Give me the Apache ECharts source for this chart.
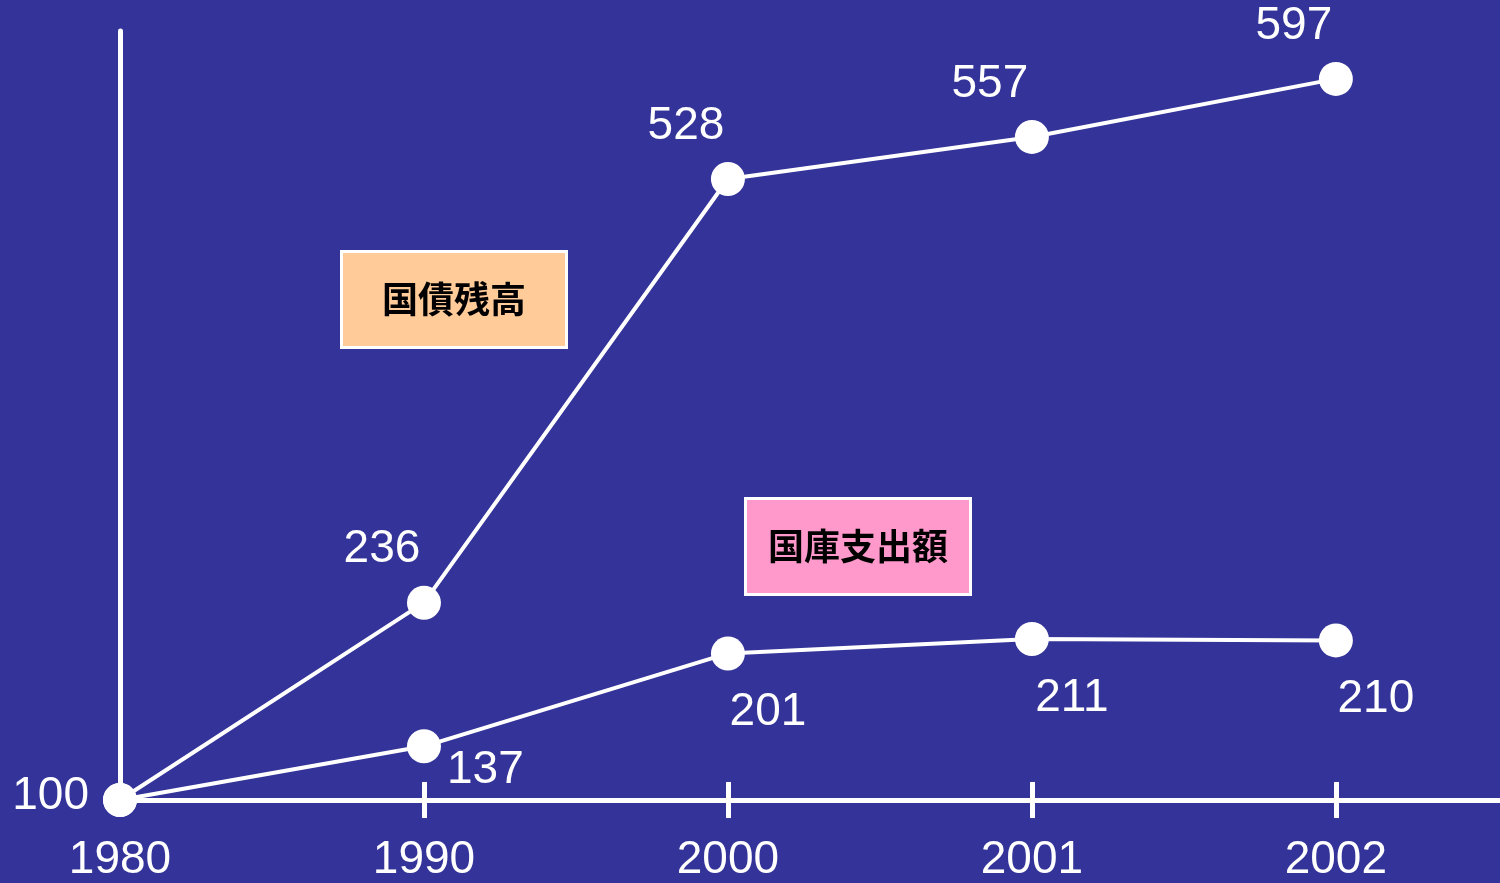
<!DOCTYPE html>
<html>
<head>
<meta charset="utf-8">
<script src="https://cdn.jsdelivr.net/npm/echarts@6/dist/echarts.min.js"></script>
<style>
html,body{margin:0;padding:0;background:#333399;}
#chart{width:1500px;height:883px;}
</style>
</head>
<body>
<div id="chart"></div>
<script>
// ---- data (index, 1980 = 100) ----
const years = ['1980', '1990', '2000', '2001', '2002'];
const debtBalance = [100, 236, 528, 557, 597];      // 国債残高
const treasuryOutlays = [100, 137, 201, 211, 210];  // 国庫支出額
const seriesNames = ['国債残高', '国庫支出額'];

const chart = echarts.init(document.getElementById('chart'), null, {renderer: 'canvas'});

const numFont = {color: '#ffffff', fontSize: 46, fontFamily: '"Liberation Sans", Arial, sans-serif'};
const idx = years.map((_, i) => i);

function build(values, isUpper) {
  return values.map((v, i) => {
    const item = {value: [i, v]};
    if (i === 0) {
      item.label = isUpper ? {show: true, position: 'left', distance: 14, offset: [0, -4]} : {show: false};
    } else if (i === 1 && !isUpper) {
      // keep the label clear of the x axis
      item.label = {show: true, position: 'right', distance: 6, offset: [0, 24]};
    }
    return item;
  });
}

const option = {
  backgroundColor: '#333399',
  animation: false,
  grid: {left: 120, right: 0, top: 31, bottom: 82, containLabel: false},
  xAxis: [{
    type: 'value', min: 0, max: 4.54, interval: 1,
    axisLine: {show: true, lineStyle: {color: '#ffffff', width: 5}},
    axisTick: {show: true, length: 18, lineStyle: {color: '#ffffff', width: 5}, customValues: idx.slice(1)},
    axisLabel: {show: true, customValues: idx, margin: 37, ...numFont,
      formatter: v => (Number.isInteger(v) && years[v] !== undefined) ? years[v] : ''},
    splitLine: {show: false}
  }, {
    type: 'value', min: 0, max: 4.54, interval: 1, position: 'bottom',
    axisLine: {show: false},
    axisTick: {show: true, inside: true, length: 18, lineStyle: {color: '#ffffff', width: 5}, customValues: idx.slice(1)},
    axisLabel: {show: false},
    splitLine: {show: false}
  }],
  yAxis: {
    type: 'value', min: 100, max: 630,
    axisLine: {show: true, lineStyle: {color: '#ffffff', width: 5}},
    axisTick: {show: false},
    axisLabel: {show: false},
    splitLine: {show: false}
  },
  series: [{
    name: seriesNames[0], type: 'line', xAxisIndex: 0,
    data: build(debtBalance, true),
    symbol: 'circle', symbolSize: 34,
    itemStyle: {color: '#ffffff'},
    lineStyle: {color: '#ffffff', width: 4},
    label: {show: true, position: 'top', distance: 5, offset: [-42, -8], ...numFont},
    z: 3
  }, {
    name: seriesNames[1], type: 'line', xAxisIndex: 0,
    data: build(treasuryOutlays, false),
    symbol: 'circle', symbolSize: 34,
    itemStyle: {color: '#ffffff'},
    lineStyle: {color: '#ffffff', width: 4},
    label: {show: true, position: 'bottom', distance: 5, offset: [40, 14], ...numFont},
    z: 3
  }],
  graphic: [{
    type: 'group', left: 340, top: 250,
    children: [
      {type: 'rect', shape: {x: 0, y: 0, width: 225, height: 96},
       style: {fill: '#FFCC99', stroke: '#ffffff', lineWidth: 3}},
      {type: 'text', x: 112.5, y: 48,
       style: {text: seriesNames[0], fill: '#000000', font: 'bold 36px "Noto Sans CJK JP", sans-serif',
               textAlign: 'center', textVerticalAlign: 'middle'}}
    ]
  }, {
    type: 'group', left: 744, top: 497,
    children: [
      {type: 'rect', shape: {x: 0, y: 0, width: 225, height: 96},
       style: {fill: '#FF99CC', stroke: '#ffffff', lineWidth: 3}},
      {type: 'text', x: 112.5, y: 48,
       style: {text: seriesNames[1], fill: '#000000', font: 'bold 36px "Noto Sans CJK JP", sans-serif',
               textAlign: 'center', textVerticalAlign: 'middle'}}
    ]
  }]
};
chart.setOption(option);
</script>
</body>
</html>
